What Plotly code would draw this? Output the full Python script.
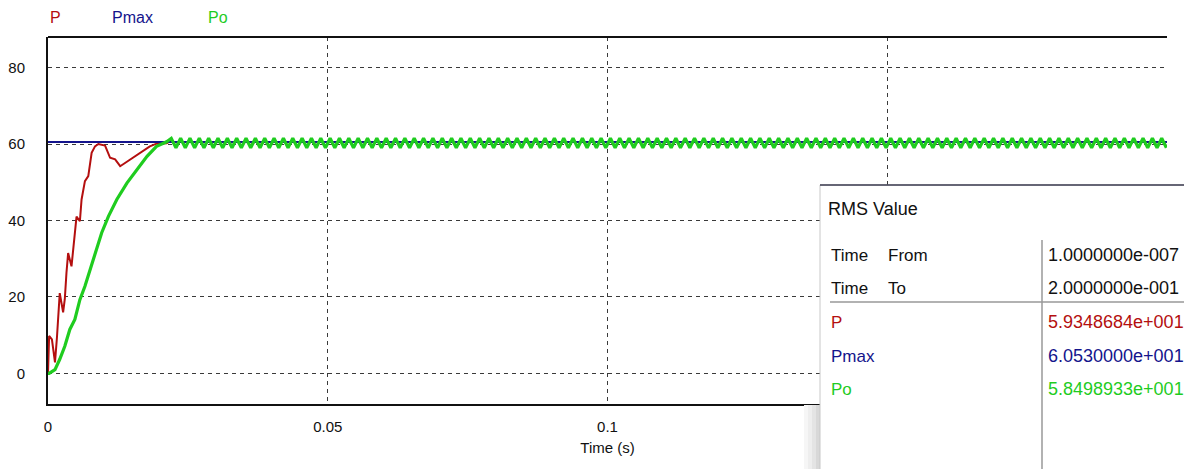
import plotly.graph_objects as go

# --- data ---
# start-up transient (time in s, power in W)
p_t = [0.0, 0.0002, 0.0007, 0.00125, 0.0016, 0.0018, 0.0021, 0.0027, 0.003, 0.0033,
       0.0036, 0.0042, 0.0045, 0.0048, 0.0051, 0.0057, 0.006, 0.0066, 0.0072, 0.0078,
       0.0084, 0.009, 0.0102, 0.0111, 0.012, 0.0129, 0.0147, 0.0165, 0.0182, 0.0194, 0.0212]
p_val = [0.0, 9.8, 8.9, 2.9, 9.4, 15.0, 21.0, 16.0, 19.4, 26.3,
         31.5, 28.0, 32.4, 36.8, 41.0, 39.8, 45.5, 50.3, 51.6, 57.7,
         59.4, 60.0, 59.6, 56.4, 56.0, 54.2, 56.0, 57.7, 59.4, 60.1, 60.2]

po_t = [0.0, 0.0002, 0.00125, 0.0021, 0.003, 0.0039, 0.0048, 0.0057, 0.0066, 0.0075,
        0.0087, 0.0096, 0.0108, 0.0123, 0.0141, 0.0159, 0.0177, 0.0194, 0.0206, 0.0212]
po_val = [0.0, 0.0, 1.0, 3.7, 7.1, 11.5, 14.1, 19.3, 22.8, 27.2,
          32.4, 36.8, 41.1, 45.5, 49.8, 53.3, 56.8, 59.4, 60.3, 60.6]

pmax_t = [0.0, 0.2]
pmax_val = [60.53, 60.53]

# steady-state ripple: one measured cycle (peak, valley), repeated to the end
ripple_period = 0.00167
ripple_start = 0.0212
po_cycle = [61.5, 59.0]
p_cycle = [60.9, 59.5]

rms_rows = [("Time", "From", "1.0000000e-007"),
            ("Time", "To", "2.0000000e-001"),
            ("P", "", "5.9348684e+001"),
            ("Pmax", "", "6.0530000e+001"),
            ("Po", "", "5.8498933e+001")]

C_P = "#b40f0f"
C_PMAX = "#14148c"
C_PO = "#1fcc1f"

# build steady-state part
n_half = int((0.2 - ripple_start) / (ripple_period / 2))
ss_t = [ripple_start + (k + 1) * ripple_period / 2 for k in range(n_half)]
po_full_t = po_t + ss_t
po_full_v = po_val + [po_cycle[k % 2] for k in range(n_half)]
p_full_t = p_t + ss_t
p_full_v = p_val + [p_cycle[k % 2] for k in range(n_half)]

# page body has an 8px margin, so the figure is drawn 8px in from the window corner
OFF = 8
W, H = 1192 - OFF, 469 - OFF
L, R, T, B = 40, 25, 29, 65
pw, ph = W - L - R, H - T - B


def px(x):
    # window x (px) -> paper
    return (x - OFF - L) / pw


def py(y):
    # window y (px) -> paper
    return (H - B - (y - OFF)) / ph


fig = go.Figure()
fig.add_trace(go.Scatter(x=p_full_t, y=p_full_v, mode="lines", line=dict(color=C_P, width=2), name="P"))
fig.add_trace(go.Scatter(x=pmax_t, y=pmax_val, mode="lines", line=dict(color=C_PMAX, width=2), name="Pmax"))
fig.add_trace(go.Scatter(x=po_full_t, y=po_full_v, mode="lines", line=dict(color=C_PO, width=3.2), name="Po"))

grid = dict(showgrid=True, gridcolor="#3a3a3a", gridwidth=1.3, griddash="4px,4px", zeroline=False)
fig.update_xaxes(range=[0, 0.2], tickvals=[0, 0.05, 0.1, 0.15, 0.2], ticktext=["0", "0.05", "0.1", "0.15", "0.2"],
                 showline=True, linecolor="#111", linewidth=2, mirror=False, automargin=False,
                 ticks="", ticklabelstandoff=8, tickfont=dict(size=15),
                 title=dict(text="Time (s)", standoff=8, font=dict(size=15, color="#111")),
                 **grid)
fig.update_yaxes(range=[-8, 88], tickvals=[0, 20, 40, 60, 80],
                 showline=True, linecolor="#111", linewidth=2, mirror=False, automargin=False,
                 ticks="", ticklabelstandoff=18, tickfont=dict(size=15), **grid)

shapes = [
    # top border of the frame
    dict(type="line", xref="paper", yref="paper", x0=0, x1=1, y0=1, y1=1, line=dict(color="#111", width=2)),
]
# shadow to the left of the RMS window
for i, g in enumerate(["#f6f6f6", "#eeeeee", "#e4e4e4", "#d8d8d8"]):
    shapes.append(dict(type="rect", xref="paper", yref="paper", layer="above",
                       x0=px(804 + 4 * i), x1=px(808 + 4 * i), y0=py(469 + 5), y1=py(405),
                       line=dict(width=0), fillcolor=g))
# RMS window
shapes += [
    dict(type="rect", xref="paper", yref="paper", layer="above",
         x0=px(820), x1=px(1192 + 10), y0=py(469 + 10), y1=py(185),
         line=dict(color="#c8c8c8", width=1), fillcolor="white"),
    dict(type="line", xref="paper", yref="paper", layer="above",
         x0=px(820), x1=px(1192 + 10), y0=py(185), y1=py(185), line=dict(color="#3c3c50", width=1.5)),
    dict(type="line", xref="paper", yref="paper", layer="above",
         x0=px(830), x1=px(1192 + 10), y0=py(302), y1=py(302), line=dict(color="#999", width=1.5)),
    dict(type="line", xref="paper", yref="paper", layer="above",
         x0=px(1042), x1=px(1042), y0=py(240), y1=py(469 + 10), line=dict(color="#999", width=1.5)),
]

ann = []
# legend labels at top
for text, x, c in [("P", 49, C_P), ("Pmax", 111, C_PMAX), ("Po", 207, C_PO)]:
    ann.append(dict(text=text, x=px(x), y=py(8.5), xref="paper", yref="paper", xanchor="left", yanchor="top",
                    showarrow=False, borderpad=0, font=dict(size=16, color=c, family="Liberation Sans")))

ann.append(dict(text="RMS Value", x=px(826), y=py(209), xref="paper", yref="paper", xanchor="left",
                yanchor="middle", showarrow=False, font=dict(size=18, color="#111", family="Liberation Sans")))
row_y = [255, 288, 322, 356, 389]
row_c = ["#111", "#111", C_P, C_PMAX, C_PO]
for (a, b, v), y, c in zip(rms_rows, row_y, row_c):
    ann.append(dict(text=a, x=px(829), y=py(y), xref="paper", yref="paper", xanchor="left", yanchor="middle",
                    showarrow=False, font=dict(size=17, color=c, family="Liberation Sans")))
    if b:
        ann.append(dict(text=b, x=px(886), y=py(y), xref="paper", yref="paper", xanchor="left", yanchor="middle",
                        showarrow=False, font=dict(size=17, color=c, family="Liberation Sans")))
    ann.append(dict(text=v, x=px(1046), y=py(y), xref="paper", yref="paper", xanchor="left", yanchor="middle",
                    showarrow=False, font=dict(size=18, color=c, family="Liberation Sans")))

fig.update_layout(
    width=W, height=H,
    margin=dict(l=L, r=R, t=T, b=B, autoexpand=False),
    paper_bgcolor="white", plot_bgcolor="white",
    showlegend=False,
    font=dict(family="Liberation Sans", size=14, color="#111"),
    shapes=shapes, annotations=ann,
)

fig.write_html("out.html")
